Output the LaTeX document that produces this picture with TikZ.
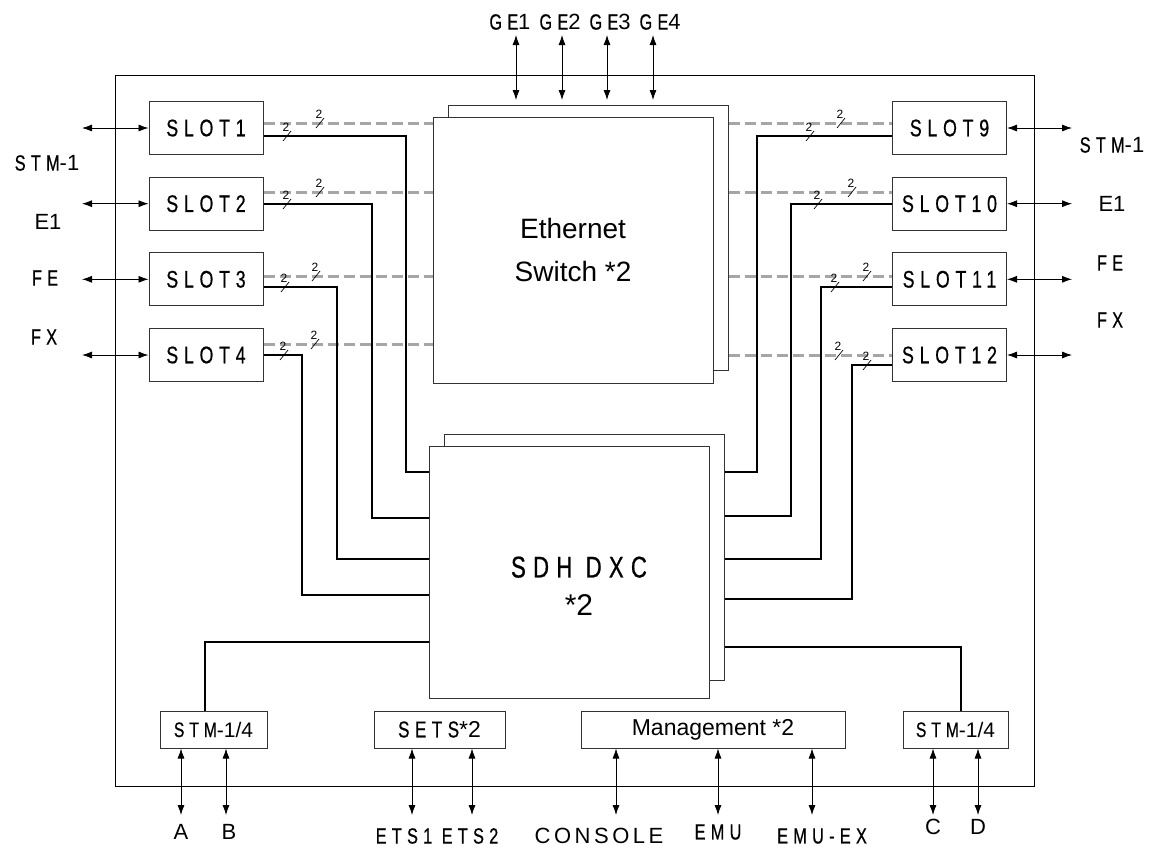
\documentclass[tikz,border=0pt]{standalone}
\usepackage{fontspec}
\setmainfont{Liberation Sans}
\newfontfamily\cnd[FakeStretch=0.74,LetterSpace=24,FakeBold=0.6]{Liberation Sans}
\newfontfamily\spc[LetterSpace=16]{Liberation Sans}
\usetikzlibrary{arrows.meta,calc}
\begin{document}
\begin{tikzpicture}[x=1pt,y=-1pt,
  slotbox/.style={draw=black!80,line width=1pt,minimum width=114pt,minimum height=53pt,inner sep=0pt,font=\cnd\fontsize{24}{24}\selectfont},
  bigbox/.style={draw=black!80,fill=white,line width=1pt,minimum width=280pt,inner sep=0pt},
  botbox/.style={draw=black!80,line width=1pt,minimum height=37pt,inner sep=0pt},
  bi/.style={line width=0.8pt,{Latex[length=10pt,width=7pt]}-{Latex[length=10pt,width=7pt]}},
  busline/.style={line width=2.5pt},
  ethline/.style={draw=gray!70,line width=3pt,dash pattern=on 11pt off 5pt},
  lbl/.style={font=\cnd\fontsize{22}{22}\selectfont,inner sep=0pt},
  nlbl/.style={font=\fontsize{22}{22}\selectfont,inner sep=0pt},
  busmark/.pic={\draw[line width=0.7pt] (-4,5) -- (4,-5);
    \node[inner sep=0pt,font=\fontsize{12}{12}\selectfont] at (-1,-9) {2};}
]
\useasboundingbox (0,0) rectangle (1150,847);
% outer frame
\draw[line width=0.8pt] (115,75) rectangle (1034,786);

% slots
\node[slotbox] (s1) at (206,128) {SLOT1};
\node[slotbox] (s2) at (206,203.7) {SLOT2};
\node[slotbox] (s3) at (206,279.3) {SLOT3};
\node[slotbox] (s4) at (206,355) {SLOT4};
\node[slotbox] (s9) at (949.5,128) {SLOT9};
\node[slotbox] (s10) at (949.5,203.7) {SLOT10};
\node[slotbox] (s11) at (949.5,279.3) {SLOT11};
\node[slotbox] (s12) at (949.5,355) {SLOT12};

% Ethernet switch
\node[bigbox,minimum height=265pt] (ethb) at (588,237.5) {};
\node[bigbox,minimum height=266pt,font=\fontsize{28}{43}\selectfont,align=center] (eth) at (573,250) {Ethernet\\Switch *2};

% SDH DXC
\node[bigbox,minimum height=246pt] (sdhb) at (584,557) {};
\node[bigbox,minimum height=252pt] (sdh) at (569,572) {};
\node[align=center,inner sep=0pt,font=\fontsize{30}{38}\selectfont] (sdht) at (579,586) {{\cnd SDH DXC}\\{\fontsize{30}{38}\selectfont *2}};

% bottom boxes
\node[botbox,minimum width=107pt] (stml) at (213.5,729.5) {{\cnd\fontsize{21}{21}\selectfont STM}{\fontsize{21}{21}\selectfont -1/4}};
\node[botbox,minimum width=131pt] (sets) at (439.5,729.5) {{\cnd\fontsize{23}{23}\selectfont SETS}{\fontsize{23}{23}\selectfont *2}};
\node[botbox,minimum width=264pt,font=\fontsize{23}{23}\selectfont] (mgmt) at (713,729.5) {Management *2};
\node[botbox,minimum width=105pt] (stmr) at (955.5,729.5) {{\cnd\fontsize{21}{21}\selectfont STM}{\fontsize{21}{21}\selectfont -1/4}};

% dashed ethernet links
\draw[ethline] (s1.east |- 0,123) -- (eth.west |- 0,123);
\draw[ethline] (s2.east |- 0,192) -- (eth.west |- 0,192);
\draw[ethline] (s3.east |- 0,276) -- (eth.west |- 0,276);
\draw[ethline] (s4.east |- 0,344) -- (eth.west |- 0,344);
\draw[ethline] (ethb.east |- 0,123) -- (s9.west |- 0,123);
\draw[ethline] (ethb.east |- 0,192) -- (s10.west |- 0,192);
\draw[ethline] (ethb.east |- 0,276) -- (s11.west |- 0,276);
\draw[ethline] (ethb.east |- 0,355) -- (s12.west |- 0,355);

% solid SDH links
\draw[busline] (s1.east |- 0,136) -| (406,472) -- (sdh.west |- 0,472);
\draw[busline] (s2.east |- 0,204) -| (372,518) -- (sdh.west |- 0,518);
\draw[busline] (s3.east |- 0,287) -| (337,559) -- (sdh.west |- 0,559);
\draw[busline] (s4.east |- 0,355) -| (302,595) -- (sdh.west |- 0,595);
\draw[busline] (s9.west |- 0,136) -| (757,472) -- (sdhb.east |- 0,472);
\draw[busline] (s10.west |- 0,204) -| (791,516) -- (sdhb.east |- 0,516);
\draw[busline] (s11.west |- 0,287) -| (821,559) -- (sdhb.east |- 0,559);
\draw[busline] (s12.west |- 0,365) -| (852,599) -- (sdhb.east |- 0,599);
\draw[busline] (stml.north -| 205,0) |- (sdh.west |- 0,642);
\draw[busline] (stmr.north -| 961,0) |- (sdhb.east |- 0,647);

% bus marks
\pic at (320,123) {busmark};
\pic at (287,136) {busmark};
\pic at (320,192) {busmark};
\pic at (287,204) {busmark};
\pic at (316,276) {busmark};
\pic at (285,287) {busmark};
\pic at (315,344) {busmark};
\pic at (284,355) {busmark};
\pic at (841,123) {busmark};
\pic at (810,136) {busmark};
\pic at (852,192) {busmark};
\pic at (818,204) {busmark};
\pic at (867,276) {busmark};
\pic at (835,287) {busmark};
\pic at (839,355) {busmark};
\pic at (867,365) {busmark};

% side arrows
\coordinate (la1) at (82,128);
\coordinate (la2) at (82,203.7);
\coordinate (la3) at (82,279.3);
\coordinate (la4) at (82,355);
\coordinate (ra1) at (1072,128);
\coordinate (ra2) at (1072,203.7);
\coordinate (ra3) at (1072,279.3);
\coordinate (ra4) at (1072,355);
\draw[bi] (la1) -- (s1.west);
\draw[bi] (la2) -- (s2.west);
\draw[bi] (la3) -- (s3.west);
\draw[bi] (la4) -- (s4.west);
\draw[bi] (s9.east) -- (ra1);
\draw[bi] (s10.east) -- (ra2);
\draw[bi] (s11.east) -- (ra3);
\draw[bi] (s12.east) -- (ra4);

% side labels
\node[inner sep=0pt] (l1) at (47,163) {{\cnd\fontsize{22}{22}\selectfont STM}{\fontsize{22}{22}\selectfont -1}};
\node[nlbl] (l2) at (48,222) {E1};
\node[lbl] (l3) at (45,278) {FE};
\node[lbl] (l4) at (44,337) {FX};
\node[inner sep=0pt] (r1) at (1112,145) {{\cnd\fontsize{22}{22}\selectfont STM}{\fontsize{22}{22}\selectfont -1}};
\node[nlbl] (r2) at (1112,204) {E1};
\node[lbl] (r3) at (1110,263) {FE};
\node[lbl] (r4) at (1110,320) {FX};

% GE arrows
\node[inner sep=0pt,font=\fontsize{22}{22}\selectfont] (ge) at (585,22) {{\cnd GE}1\hspace{9pt}{\cnd GE}2\hspace{9pt}{\cnd GE}3\hspace{9pt}{\cnd GE}4};
\coordinate (g1) at (516,35);
\coordinate (g2) at (562,35);
\coordinate (g3) at (607,35);
\coordinate (g4) at (653,35);
\draw[bi] (g1) -- (516,100);
\draw[bi] (g2) -- (562,100);
\draw[bi] (g3) -- (607,100);
\draw[bi] (g4) -- (653,100);

% bottom arrows
\draw[bi] (stml.south -| 181,0) -- (181,815);
\draw[bi] (stml.south -| 226,0) -- (226,815);
\draw[bi] (sets.south -| 412,0) -- (412,815);
\draw[bi] (sets.south -| 472,0) -- (472,815);
\draw[bi] (mgmt.south -| 616,0) -- (616,815);
\draw[bi] (mgmt.south -| 718,0) -- (718,815);
\draw[bi] (mgmt.south -| 812,0) -- (812,815);
\draw[bi] (stmr.south -| 933,0) -- (933,815);
\draw[bi] (stmr.south -| 978,0) -- (978,815);

% bottom labels
\node[nlbl] (ta) at (181,832) {A};
\node[nlbl] (tb) at (229,832) {B};
\node[lbl] (te1) at (404,836) {ETS1};
\node[lbl] (te2) at (470,836) {ETS2};
\node[inner sep=0pt,font=\spc\fontsize{22}{22}\selectfont] (tc) at (599,836) {CONSOLE};
\node[lbl] (tm) at (718,832) {EMU};
\node[lbl] (tx) at (822,836) {EMU-EX};
\node[nlbl] (tcc) at (933,827) {C};
\node[nlbl] (td) at (978,827) {D};
\end{tikzpicture}
\end{document}
